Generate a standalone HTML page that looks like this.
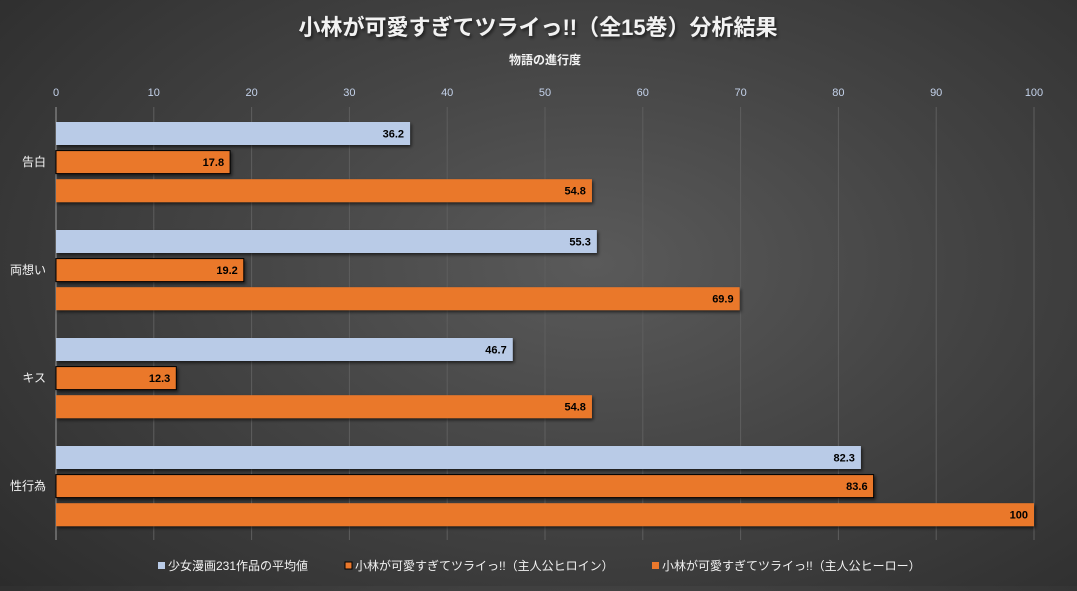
<!DOCTYPE html>
<html><head><meta charset="utf-8"><style>
html,body{margin:0;padding:0;}
body{width:1077px;height:586px;overflow:hidden;background:radial-gradient(ellipse 75% 85% at 55% 45%,#5a5a5a 0%,#444 45%,#2b2b2b 100%);font-family:"Liberation Sans","Noto Sans CJK JP",sans-serif;}
svg text{font-family:"Liberation Sans","Noto Sans CJK JP",sans-serif;}
</style></head><body>
<svg id="chart" width="1077" height="586" xmlns="http://www.w3.org/2000/svg">
<defs><filter id="sh" x="-5%" y="-20%" width="110%" height="150%"><feDropShadow dx="1.5" dy="2" stdDeviation="1.5" flood-color="#000" flood-opacity="0.6"/></filter></defs>
<text x="538" y="35" text-anchor="middle" font-size="22" font-weight="bold" fill="#f2f2f2" filter="url(#sh)">小林が可愛すぎてツライっ!!（全15巻）分析結果</text>
<text x="545" y="64" text-anchor="middle" font-size="12" font-weight="bold" fill="#f2f2f2">物語の進行度</text>
<g id="grid"></g><g id="bars"></g><g id="legend"></g>
</svg>
<script>
const categories=["告白","両想い","キス","性行為"];
const seriesNames=["少女漫画231作品の平均値","小林が可愛すぎてツライっ!!（主人公ヒロイン）","小林が可愛すぎてツライっ!!（主人公ヒーロー）"];
const avgValues=[36.2,55.3,46.7,82.3];
const heroineValues=[17.8,19.2,12.3,83.6];
const heroValues=[54.8,69.9,54.8,100];
const ticks=[0,10,20,30,40,50,60,70,80,90,100];
const NS="http://www.w3.org/2000/svg";
const x0=56,x1=1034,yTop=107,groupH=108,barH=23,barGap=28.6,firstBar=122;
const xs=v=>x0+(x1-x0)*v/100;
function mk(t,a,p){const e=document.createElementNS(NS,t);for(const k in a)e.setAttribute(k,a[k]);p.appendChild(e);return e;}
const grid=document.getElementById('grid'),bars=document.getElementById('bars'),leg=document.getElementById('legend');
ticks.forEach(t=>{
 const l=mk('line',{x1:xs(t),x2:xs(t),y1:yTop,y2:540,stroke:t===0?'#9a9a9a':'#5e5e5e','stroke-width':1},grid);
 
 
 const tx=mk('text',{x:xs(t),y:96,'text-anchor':'middle','font-size':11,fill:'#c4d2ea'},grid);
 tx.textContent=t;
 
 
});
const series=[avgValues,heroineValues,heroValues];
const fills=['#b9cbe7','#ea782c','#ea782c'];
categories.forEach((c,i)=>{
 const cy=firstBar+i*groupH+barGap+barH/2;
 const ct=mk('text',{x:46,y:cy+4,'text-anchor':'end','font-size':12,fill:'#f2f2f2'},grid);
 ct.textContent=c;
 
 
 series.forEach((s,j)=>{
  const y=firstBar+i*groupH+j*barGap;
  const r=mk('rect',{x:x0,y:y,width:xs(s[i])-x0,height:barH,fill:fills[j],filter:'url(#sh)'},bars);
  if(j===1){r.setAttribute('stroke','#000');r.setAttribute('stroke-width','1');}
  
  
  const lt=mk('text',{x:xs(s[i])-6,y:y+barH/2+4,'text-anchor':'end','font-size':11,'font-weight':'bold',fill:'#000'},bars);
  lt.textContent=s[i];
  
  
 });
});
const lx=[158,345,652];
seriesNames.forEach((n,j)=>{
 const g=mk('g',{},leg);
 
 
 const r=mk('rect',{x:lx[j],y:562,width:7,height:7,fill:fills[j]},g);
 if(j===1){r.setAttribute('stroke','#000');r.setAttribute('stroke-width','1');}
 const t=mk('text',{x:lx[j]+10,y:570,'font-size':12,fill:'#f2f2f2'},g);
 t.textContent=n;
});
</script>
</body></html>
